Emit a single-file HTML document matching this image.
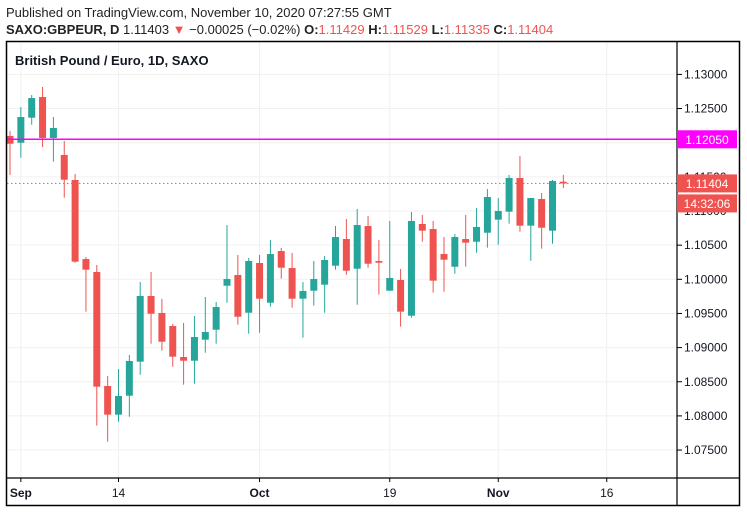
<!DOCTYPE html>
<html><head><meta charset="utf-8"><style>
body{margin:0;background:#fff;width:747px;height:513px;overflow:hidden;font-family:"Liberation Sans",sans-serif}
svg text{font-family:"Liberation Sans",sans-serif}
</style></head><body>
<svg id="chart" width="747" height="513" viewBox="0 0 747 513" xmlns="http://www.w3.org/2000/svg">
<text x="6" y="17" font-size="13" fill="#222">Published on TradingView.com, November 10, 2020 07:27:55 GMT</text>
<text x="6" y="34" font-size="13" fill="#222"><tspan font-weight="bold">SAXO:GBPEUR, D</tspan> 1.11403 <tspan fill="#ef5350">▼</tspan> −0.00025 (−0.02%) <tspan font-weight="bold">O:</tspan><tspan fill="#ef5350">1.11429</tspan> <tspan font-weight="bold">H:</tspan><tspan fill="#ef5350">1.11529</tspan> <tspan font-weight="bold">L:</tspan><tspan fill="#ef5350">1.11335</tspan> <tspan font-weight="bold">C:</tspan><tspan fill="#ef5350">1.11404</tspan></text>
<g id="grid"></g>
<g id="marks"></g>
<g id="axes"></g>
<rect x="6.5" y="41.5" width="733" height="464" fill="none" stroke="#000" stroke-width="1.5"/>
<text x="15" y="65" font-size="13" font-weight="bold" fill="#131722">British Pound / Euro, 1D, SAXO</text>
</svg>
<script>
const opens=[1.12098,1.12000,1.12366,1.12669,1.12069,1.11820,1.11454,1.10297,1.10107,1.08438,1.08018,1.08296,1.08794,1.09756,1.09507,1.09316,1.08862,1.08808,1.09116,1.09262,1.09906,1.10063,1.09511,1.10239,1.09657,1.10414,1.10165,1.09716,1.09833,1.09921,1.10199,1.10590,1.10155,1.10780,1.10268,1.09833,1.09990,1.09467,1.10810,1.10736,1.10370,1.10184,1.10590,1.10550,1.10682,1.10873,1.10990,1.11483,1.10785,1.11176,1.10712,1.11429];
const highs=[1.12171,1.12522,1.12698,1.12815,1.12376,1.12025,1.11542,1.10326,1.10209,1.08584,1.08687,1.08892,1.09960,1.10107,1.09712,1.09346,1.09360,1.09463,1.09741,1.09668,1.10795,1.10356,1.10312,1.10356,1.10575,1.10458,1.10385,1.09960,1.10268,1.10341,1.10780,1.10883,1.11029,1.10927,1.10575,1.10854,1.10151,1.10985,1.10941,1.10854,1.10619,1.10663,1.10941,1.11044,1.11322,1.11190,1.11527,1.11805,1.11190,1.11263,1.11454,1.11529];
const lows=[1.11527,1.11780,1.12263,1.11937,1.11722,1.11195,1.10243,1.09526,1.07857,1.07622,1.07915,1.07988,1.08603,1.09057,1.08955,1.08720,1.08457,1.08472,1.08925,1.09057,1.09657,1.09335,1.09204,1.09218,1.09599,1.10009,1.09584,1.09145,1.09613,1.09511,1.10141,1.10067,1.09628,1.10170,1.09775,1.09833,1.09306,1.09438,1.10550,1.09804,1.09818,1.10082,1.10184,1.10389,1.10463,1.10507,1.10814,1.10697,1.10272,1.10448,1.10521,1.11335];
const closes=[1.11985,1.12376,1.12654,1.12069,1.12215,1.11458,1.10258,1.10141,1.08428,1.08018,1.08292,1.08804,1.09756,1.09496,1.09086,1.08867,1.08808,1.09155,1.09228,1.09594,1.10004,1.09452,1.10268,1.09716,1.10370,1.10170,1.09716,1.09829,1.10004,1.10283,1.10619,1.10126,1.10795,1.10228,1.10243,1.10019,1.09526,1.10854,1.10712,1.09980,1.10287,1.10619,1.10536,1.10766,1.11205,1.11000,1.11483,1.10785,1.11190,1.10755,1.11439,1.11404];
const priceTicks=[1.075,1.08,1.085,1.09,1.095,1.10,1.105,1.11,1.115,1.12,1.125,1.13];
const timeLabels=["Sep","14","Oct","19","Nov","16"];
const timeLabelIdx=[1,10,23,35,45,55];
const timeLabelBold=[true,false,true,false,true,false];
const hlinePrice=1.1205;
const lastPrice=1.11404;

const NS="http://www.w3.org/2000/svg";
const y=p=>279.3-(p-1.10)*6830;
const x=i=>10+i*10.85;
const PL=7,PR=677,PT=42,PB=478;
function mk(tag,attrs,parent){const e=document.createElementNS(NS,tag);for(const k in attrs)e.setAttribute(k,attrs[k]);parent.appendChild(e);return e;}
const grid=document.getElementById('grid'),marks=document.getElementById('marks'),axes=document.getElementById('axes');
priceTicks.forEach(p=>{
  const l=mk('line',{x1:PL,x2:PR,y1:y(p),y2:y(p),stroke:'#f0f0f0','stroke-width':1},grid);
  
  
  const t=mk('line',{x1:PR,x2:PR+5,y1:y(p),y2:y(p),stroke:'#000','stroke-width':1},axes);
  
  
  const tx=mk('text',{x:684,y:y(p)+4,'font-size':12,fill:'#131722'},axes);
  tx.textContent=p.toFixed(5);
  
  
});
timeLabels.forEach((s,k)=>{
  const xx=x(timeLabelIdx[k]);
  const l=mk('line',{x1:xx,x2:xx,y1:PT,y2:PB,stroke:'#f0f0f0','stroke-width':1},grid);
  
  
  const t=mk('line',{x1:xx,x2:xx,y1:PB,y2:PB+4,stroke:'#000','stroke-width':1},axes);
  
  
  const tx=mk('text',{x:xx,y:497,'font-size':12,fill:'#131722','text-anchor':'middle','font-weight':timeLabelBold[k]?'bold':'normal'},axes);
  tx.textContent=s;
  
  
});
const pa=mk('line',{x1:PR,x2:PR,y1:PT,y2:505,stroke:'#000','stroke-width':1.2},axes);


const ta=mk('line',{x1:PL,x2:739,y1:PB,y2:PB,stroke:'#000','stroke-width':1.2},axes);



opens.forEach((o,i)=>{
  const c=closes[i],up=c>=o,col=up?'#26a69a':'#ef5350',cx=x(i);
  const w=mk('line',{x1:cx,x2:cx,y1:y(highs[i]),y2:y(lows[i]),stroke:col,'stroke-width':1},marks);
  
  
  const top=y(Math.max(o,c)),h=Math.max(1,y(Math.min(o,c))-top);
  const b=mk('rect',{x:cx-3.5,y:top,width:7,height:h,fill:col},marks);
  
  
});
const hl=mk('line',{x1:PL,x2:PR,y1:y(hlinePrice),y2:y(hlinePrice),stroke:'#ff00ff','stroke-width':1.5},marks);


const lp=mk('line',{x1:PL,x2:PR,y1:y(lastPrice),y2:y(lastPrice),stroke:'#ef5350','stroke-width':1,'stroke-dasharray':'1.5,2.5'},marks);


function tag(name,py,txt,fill,dy){
  const r=mk('rect',{x:677,y:py-9+dy,width:60,height:18,fill:fill},axes);
  
  
  const t=mk('text',{x:707,y:py+4.5+dy,'font-size':12,fill:'#fff','text-anchor':'middle'},axes);
  t.textContent=txt;
  
  
}
tag('level-price-label',y(hlinePrice),hlinePrice.toFixed(5),'#ff00ff',0);
tag('last-price-label',y(lastPrice),lastPrice.toFixed(5),'#ef5350',0);
tag('countdown-label',y(lastPrice),'14:32:06','#ef5350',20);
</script>
</body></html>
